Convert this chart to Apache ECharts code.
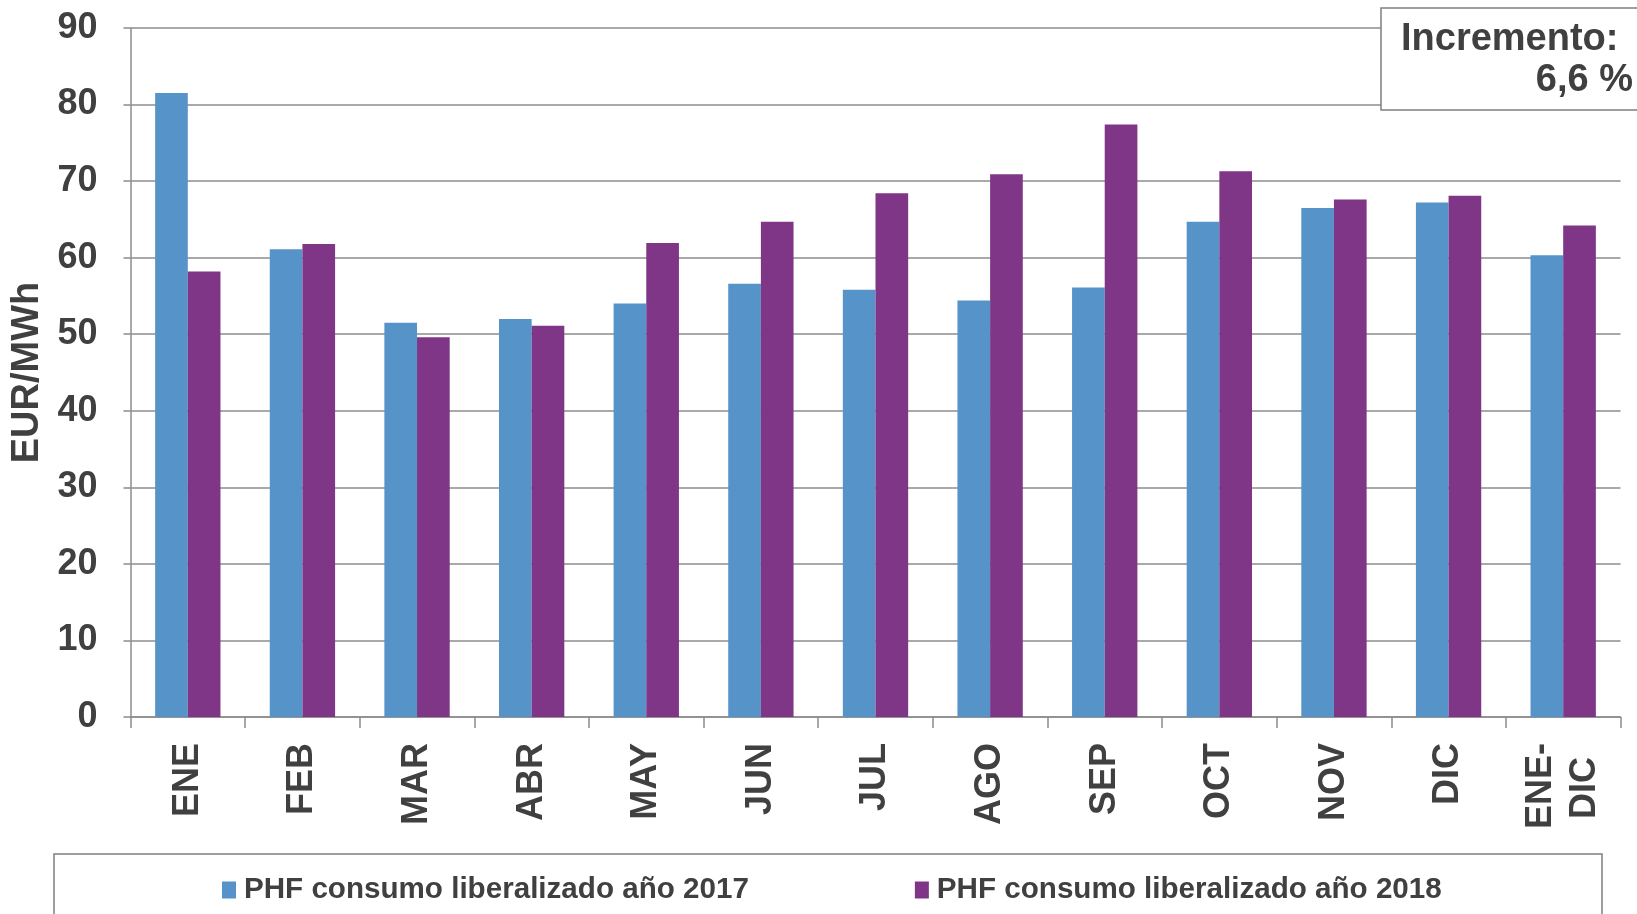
<!DOCTYPE html>
<html>
<head>
<meta charset="utf-8">
<script src="https://cdn.jsdelivr.net/npm/echarts@6/dist/echarts.min.js"></script>
<style>
  html, body { margin: 0; padding: 0; background: #ffffff; }
  #chart { width: 1637px; height: 914px; }
</style>
</head>
<body>
<div id="chart"></div>
<script>
// Monthly PHF prices (EUR/MWh), liberalised consumption
const categories = ['ENE', 'FEB', 'MAR', 'ABR', 'MAY', 'JUN', 'JUL', 'AGO', 'SEP', 'OCT', 'NOV', 'DIC', 'ENE-\nDIC'];
const phf2017 = [81.5, 61.1, 51.5, 52.0, 54.0, 56.6, 55.8, 54.4, 56.1, 64.7, 66.5, 67.2, 60.3];
const phf2018 = [58.2, 61.8, 49.6, 51.1, 61.9, 64.7, 68.4, 70.9, 77.4, 71.3, 67.6, 68.1, 64.2];
const seriesNames = ['PHF consumo liberalizado año 2017', 'PHF consumo liberalizado año 2018'];
const yTicks = { min: 0, max: 90, interval: 10 };
const increaseLabel = 'Incremento:';
const increaseValue = '6,6 %';

const FONT = '"Liberation Sans", Arial, sans-serif';
const TEXT = '#404040';
const LINE = '#8c8c8c';
const BLUE = '#5593c9';
const PURPLE = '#7f3686';

const chart = echarts.init(document.getElementById('chart'), null, { renderer: 'canvas' });

const option = {
  animation: false,
  backgroundColor: '#ffffff',
  grid: { left: 130.5, right: 16.5, top: 28, bottom: 197 },
  legend: {
    data: seriesNames,
    left: 222,
    top: 875,
    padding: 0,
    icon: 'rect',
    itemWidth: 14,
    itemHeight: 17,
    itemGap: 166,
    textStyle: {
      fontFamily: FONT, fontSize: 29.6, fontWeight: 'bold', color: TEXT,
      lineHeight: 30, padding: [0, 0, 0, 3]
    }
  },
  xAxis: {
    type: 'category',
    data: categories,
    axisLine: { lineStyle: { color: LINE, width: 1.5 } },
    axisTick: { show: true, length: 11, lineStyle: { color: LINE, width: 1.5 } },
    axisLabel: {
      rotate: 90,
      margin: 26,
      interval: 0,
      fontFamily: FONT,
      fontSize: 36,
      fontWeight: 'bold',
      color: TEXT,
      lineHeight: 44,
      // the two-line ENE-DIC label keeps its lines centred on each other
      formatter: function (v) {
        if (v.indexOf('\n') < 0) return v;
        const p = v.split('\n');
        return '{a|' + p[0] + '}\n{b|' + p[1] + '}';
      },
      rich: {
        a: { fontFamily: FONT, fontSize: 36, fontWeight: 'bold', color: TEXT, lineHeight: 44 },
        b: { fontFamily: FONT, fontSize: 36, fontWeight: 'bold', color: TEXT, lineHeight: 44, padding: [0, 14, 0, 0] }
      }
    }
  },
  yAxis: {
    type: 'value',
    min: yTicks.min,
    max: yTicks.max,
    interval: yTicks.interval,
    name: 'EUR/MWh',
    nameLocation: 'middle',
    nameGap: 80,
    nameRotate: 90,
    nameTextStyle: { fontFamily: FONT, fontSize: 38, fontWeight: 'bold', color: TEXT },
    axisLine: { show: true, lineStyle: { color: LINE, width: 1.5 } },
    axisTick: { show: true, length: 7, lineStyle: { color: LINE, width: 1.5 } },
    axisLabel: { margin: 33, fontFamily: FONT, fontSize: 36, fontWeight: 'bold', color: TEXT },
    splitLine: { show: true, lineStyle: { color: LINE, width: 1.5 } }
  },
  series: [
    {
      name: seriesNames[0],
      type: 'bar',
      data: phf2017,
      barGap: '0%',
      barCategoryGap: '43%',
      itemStyle: { color: BLUE }
    },
    {
      name: seriesNames[1],
      type: 'bar',
      data: phf2018,
      barGap: '0%',
      barCategoryGap: '43%',
      itemStyle: { color: PURPLE }
    }
  ],
  graphic: [
    // legend frame
    {
      type: 'rect',
      z: 0,
      silent: true,
      shape: { x: 54, y: 854, width: 1548, height: 80 },
      style: { fill: 'none', stroke: '#7f7f7f', lineWidth: 1.5 }
    },
    // annual increase note
    {
      type: 'rect',
      z: 100,
      silent: true,
      shape: { x: 1381, y: 8, width: 280, height: 102 },
      style: { fill: '#ffffff', stroke: '#7f7f7f', lineWidth: 1.5 }
    },
    {
      type: 'text',
      z: 101,
      silent: true,
      x: 1401,
      y: 40,
      style: { text: increaseLabel, font: 'bold 38px ' + FONT, fill: TEXT, textAlign: 'left', textVerticalAlign: 'middle' }
    },
    {
      type: 'text',
      z: 101,
      silent: true,
      x: 1633,
      y: 81,
      style: { text: increaseValue, font: 'bold 38px ' + FONT, fill: TEXT, textAlign: 'right', textVerticalAlign: 'middle' }
    }
  ]
};

chart.setOption(option);
</script>
</body>
</html>
